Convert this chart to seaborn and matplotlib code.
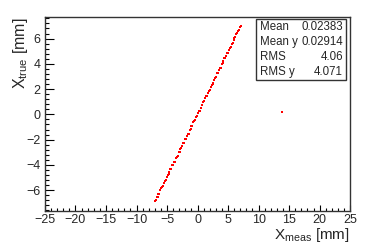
import matplotlib
matplotlib.use("Agg")
import matplotlib.pyplot as plt
import seaborn as sns
import pandas as pd
from matplotlib.ticker import MultipleLocator
from matplotlib.patches import Rectangle

x_meas = [-7.00, -6.85, -6.70, -6.55, -6.40, -6.25, -6.10, -5.95, -5.80, -5.65,
          -5.50, -5.35, -5.20, -5.05, -4.90, -4.75, -4.60, -4.45, -4.30, -4.15,
          -4.00, -3.85, -3.70, -3.55, -3.40, -3.25, -3.10, -2.95, -2.80, -2.65,
          -2.50, -2.35, -2.20, -2.05, -1.90, -1.75, -1.60, -1.45, -1.30, -1.15,
          -1.00, -0.85, -0.70, -0.55, -0.40, -0.25, -0.10, 0.05, 0.20, 0.35,
          0.50, 0.65, 0.80, 0.95, 1.10, 1.25, 1.40, 1.55, 1.70, 1.85,
          2.00, 2.15, 2.30, 2.45, 2.60, 2.75, 2.90, 3.05, 3.20, 3.35,
          3.50, 3.65, 3.80, 3.95, 4.10, 4.25, 4.40, 4.55, 4.70, 4.85,
          5.00, 5.15, 5.30, 5.45, 5.60, 5.75, 5.90, 6.05, 6.20, 6.35,
          6.50, 6.65, 6.80, 6.95, 7.05, 13.90]
x_true = [-6.88, -6.81, -6.55, -6.54, -6.32, -6.27, -6.00, -5.82, -5.76, -5.64,
          -5.39, -5.29, -5.22, -4.97, -4.76, -4.74, -4.55, -4.36, -4.32, -4.03,
          -3.97, -3.78, -3.75, -3.45, -3.35, -3.26, -3.00, -2.94, -2.72, -2.69,
          -2.47, -2.29, -2.23, -1.94, -1.91, -1.71, -1.52, -1.52, -1.26, -1.15,
          -0.94, -0.90, -0.61, -0.54, -0.44, -0.18, -0.12, 0.08, 0.26, 0.30,
          0.51, 0.72, 0.72, 0.96, 1.06, 1.29, 1.48, 1.49, 1.68, 1.89,
          1.90, 2.16, 2.35, 2.42, 2.51, 2.76, 2.89, 2.97, 3.25, 3.29,
          3.48, 3.67, 3.69, 3.96, 4.04, 4.24, 4.45, 4.46, 4.65, 4.87,
          4.89, 5.12, 5.29, 5.32, 5.59, 5.68, 5.90, 6.02, 6.09, 6.37,
          6.42, 6.59, 6.69, 6.91, 6.96, 0.20]

stat_names = ["Mean", "Mean y", "RMS", "RMS y"]
stat_values = ["0.02383", "0.02914", "4.06", "4.071"]

sns.set_style("ticks")
plt.rcParams["font.family"] = ["Liberation Sans", "DejaVu Sans"]
plt.rcParams["mathtext.fontset"] = "custom"
plt.rcParams["mathtext.rm"] = "Liberation Sans"
plt.rcParams["mathtext.it"] = "Liberation Sans"

df = pd.DataFrame({"xm": x_meas, "xt": x_true})

fig = plt.figure(figsize=(3.81, 2.44), dpi=100)
ax = fig.add_axes([0.118, 0.135, 0.801, 0.795])
sns.scatterplot(data=df, x="xm", y="xt", ax=ax, color="#ff0000", marker="s",
                s=4.5, linewidth=0, legend=False)

ax.set_xlim(-25, 25)
ax.set_ylim(-7.65, 7.7)
ax.xaxis.set_major_locator(MultipleLocator(5))
ax.xaxis.set_minor_locator(MultipleLocator(1))
ax.yaxis.set_major_locator(MultipleLocator(2))
ax.yaxis.set_minor_locator(MultipleLocator(0.4))
ax.tick_params(axis="both", which="both", direction="in", color="black",
               labelsize=9, width=0.8, top=False, right=False)
ax.tick_params(axis="x", which="major", length=4.5, pad=2)
ax.tick_params(axis="x", which="minor", length=2.3)
ax.tick_params(axis="y", which="major", length=6.5, pad=3)
ax.tick_params(axis="y", which="minor", length=3.2)
for sp in ax.spines.values():
    sp.set_visible(True)
    sp.set_linewidth(1.0)
    sp.set_color("#333333")

ax.set_xlabel("")
ax.set_ylabel("")
fig.text(0.919, 0.0, r"X$_{\rm meas}$ [mm]", ha="right", va="bottom", fontsize=11)
fig.text(0.028, 0.93, r"X$_{\rm true}$ [mm]", ha="left", va="top", fontsize=11.5,
         rotation=90)

# stats box
bx0, bx1, by0, by1 = 0.692, 0.987, 0.675, 0.99
ax.add_patch(Rectangle((bx0, by0), bx1 - bx0, by1 - by0, transform=ax.transAxes,
                       facecolor="white", edgecolor="#333333", linewidth=1.0,
                       zorder=5))
n = len(stat_names)
for i, (nm, vl) in enumerate(zip(stat_names, stat_values)):
    yy = by1 - (i + 0.5) * (by1 - by0) / n
    ax.text(bx0 + 0.012, yy, nm, transform=ax.transAxes, ha="left", va="center",
            fontsize=8.3, zorder=6)
    ax.text(bx1 - 0.01, yy, vl, transform=ax.transAxes, ha="right", va="center",
            fontsize=8.3, zorder=6)

fig.savefig("out.png", dpi=100)
